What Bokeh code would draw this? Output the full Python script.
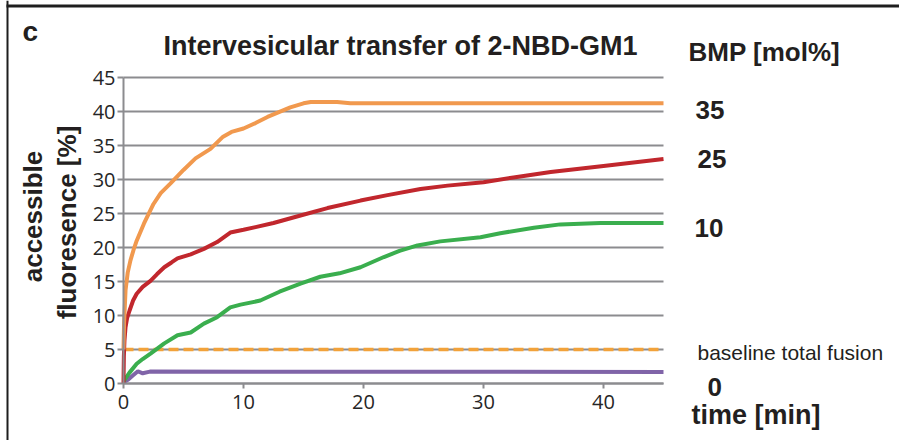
import numpy as np
from bokeh.plotting import figure
from bokeh.models import Label, Range1d, BoxAnnotation, LinearAxis, FixedTicker
from bokeh.embed import file_html
from bokeh.resources import INLINE

# ---- data ----
time_35 = [0, 0.05, 0.17, 0.35, 0.58, 0.83, 1.1, 1.7, 2.5, 3.1, 3.9, 5, 6, 7.25, 8.3, 9, 10, 11, 12, 12.8, 13.9, 15, 15.6, 17.8, 18.9, 45]
acc_35 = [5, 9, 13.7, 16.3, 18.1, 19.6, 21, 23.5, 26.4, 28, 29.4, 31.4, 33.1, 34.5, 36.3, 37, 37.5, 38.3, 39.2, 39.8, 40.6, 41.2, 41.4, 41.4, 41.2, 41.2]

time_25 = [0, 0.03, 0.08, 0.17, 0.3, 0.5, 0.8, 1.1, 1.6, 2.25, 2.8, 3.4, 4, 4.5, 5.6, 6.7, 7.8, 8.9, 10, 11, 12.5, 14.75, 17, 19.75, 22, 24.75, 27, 30, 32.5, 35.6, 40, 45]
acc_25 = [0, 4, 6.3, 8.3, 9.6, 10.7, 12.2, 13.2, 14.2, 15.1, 16.1, 17.1, 17.8, 18.4, 19.0, 19.8, 20.8, 22.2, 22.6, 23, 23.6, 24.7, 25.8, 26.9, 27.7, 28.6, 29.1, 29.6, 30.3, 31.1, 32, 33]

time_10 = [0, 0.5, 1.1, 1.6, 2.25, 3.4, 4.5, 5.6, 6.7, 7.8, 8.9, 9.75, 11.4, 13, 14.75, 16.4, 18, 19.75, 21.7, 23, 24.5, 26.4, 29.75, 31.4, 34.2, 36.4, 39.75, 45]
acc_10 = [0.3, 1.6, 2.9, 3.6, 4.4, 5.9, 7.1, 7.5, 8.8, 9.75, 11.2, 11.6, 12.2, 13.5, 14.7, 15.7, 16.2, 17.1, 18.6, 19.5, 20.3, 20.9, 21.5, 22.1, 22.9, 23.4, 23.6, 23.6]

time_0 = [0, 0.4, 0.8, 1.2, 1.6, 2.2, 45]
acc_0 = [0.2, 0.6, 1.2, 1.8, 1.5, 1.75, 1.7]

baseline_total_fusion = 5

time_min, time_max = 0, 45
acc_min, acc_max = 0, 45
x_ticks = [0, 10, 20, 30, 40]
y_ticks = [0, 5, 10, 15, 20, 25, 30, 35, 40, 45]

series_labels = ["35", "25", "10", "0"]

# ---- figure: the frame covers the whole canvas so that texts beside the axes are not clipped ----
W, H = 899, 440
px_left, px_right, px_top, px_bottom = 123, 663, 77, 383
sx = (px_right - px_left) / (time_max - time_min)
sy = (px_bottom - px_top) / (acc_max - acc_min)
x_range = Range1d(time_min - px_left / sx, time_max + (W - px_right) / sx)
y_range = Range1d(acc_min - (H - px_bottom) / sy, acc_max + px_top / sy)

p = figure(width=W, height=H, output_backend="svg", toolbar_location=None,
           x_range=x_range, y_range=y_range, x_axis_type=None, y_axis_type=None,
           min_border=0)
p.outline_line_color = None
p.background_fill_color = "white"
p.border_fill_color = "white"
p.xgrid.visible = False
p.ygrid.visible = False

grey = "#8c8c8f"

# horizontal gridlines from the y ticks, limited to the data span
p.segment(x0=[time_min] * len(y_ticks), x1=[time_max] * len(y_ticks), y0=y_ticks, y1=y_ticks,
          line_color=grey, line_width=2)

xaxis = LinearAxis(ticker=FixedTicker(ticks=x_ticks), fixed_location=acc_min, bounds=(time_min, time_max))
yaxis = LinearAxis(ticker=FixedTicker(ticks=y_ticks), fixed_location=time_min, bounds=(acc_min, acc_max))
for ax in (xaxis, yaxis):
    ax.axis_line_color = grey
    ax.axis_line_width = 2
    ax.major_tick_line_color = grey
    ax.major_tick_line_width = 2
    ax.major_tick_in = 0
    ax.minor_tick_line_color = None
    ax.major_label_text_font = "Open Sans"
    ax.major_label_text_font_size = "20px"
    ax.major_label_text_color = "#262626"
yaxis.major_tick_out = 6
yaxis.major_label_standoff = 2
xaxis.major_tick_out = 5
xaxis.major_label_standoff = 6
p.add_layout(xaxis, "below")
p.add_layout(yaxis, "left")

# baseline total fusion (dashed)
p.segment(x0=[time_min], x1=[time_max], y0=[baseline_total_fusion], y1=[baseline_total_fusion],
          line_color="#F2A23A", line_width=3.5, line_dash="10 5")

p.line(time_0, acc_0, line_width=4, line_color="#8064A8")
p.line(time_10, acc_10, line_width=4, line_color="#3AAE4E")
p.line(time_25, acc_25, line_width=4, line_color="#C1272D")
p.line(time_35, acc_35, line_width=4, line_color="#F1994E")

# panel frame lines at the top and left
p.add_layout(BoxAnnotation(left=6, right=8, top=0, bottom=H,
                           left_units="canvas", right_units="canvas",
                           top_units="canvas", bottom_units="canvas",
                           fill_color="#1e1e1e", fill_alpha=1, line_color=None))
p.add_layout(BoxAnnotation(left=6, right=W, top=4, bottom=7,
                           left_units="canvas", right_units="canvas",
                           top_units="canvas", bottom_units="canvas",
                           fill_color="#1e1e1e", fill_alpha=1, line_color=None))

bold = dict(text_font="Liberation Sans", text_font_style="bold", text_color="#231F20",
            text_baseline="middle", x_units="canvas", y_units="canvas")


def lab(x, y, text, size, align="left", **kw):
    d = dict(bold)
    d.update(kw)
    p.add_layout(Label(x=x, y=y, text=text, text_font_size=size, text_align=align, **d))


lab(400, 45, "Intervesicular transfer of 2-NBD-GM1", "27px", "center")
lab(22, 31, "c", "28px")
lab(688, 51, "BMP [mol%]", "26px")
lab(695, 109, series_labels[0], "26px")
lab(697, 158, series_labels[1], "26px")
lab(694, 227, series_labels[2], "26px")
lab(707, 386, series_labels[3], "26px")
lab(691, 414, "time [min]", "27px")
lab(697, 352, "baseline total fusion", "21px", text_font_style="normal")
lab(32, 216, "accessible", "26px", "center", angle=np.pi / 2)
lab(66, 222, "fluoresence [%]", "26px", "center", angle=np.pi / 2)

open("out.html", "w").write(file_html(p, INLINE))
